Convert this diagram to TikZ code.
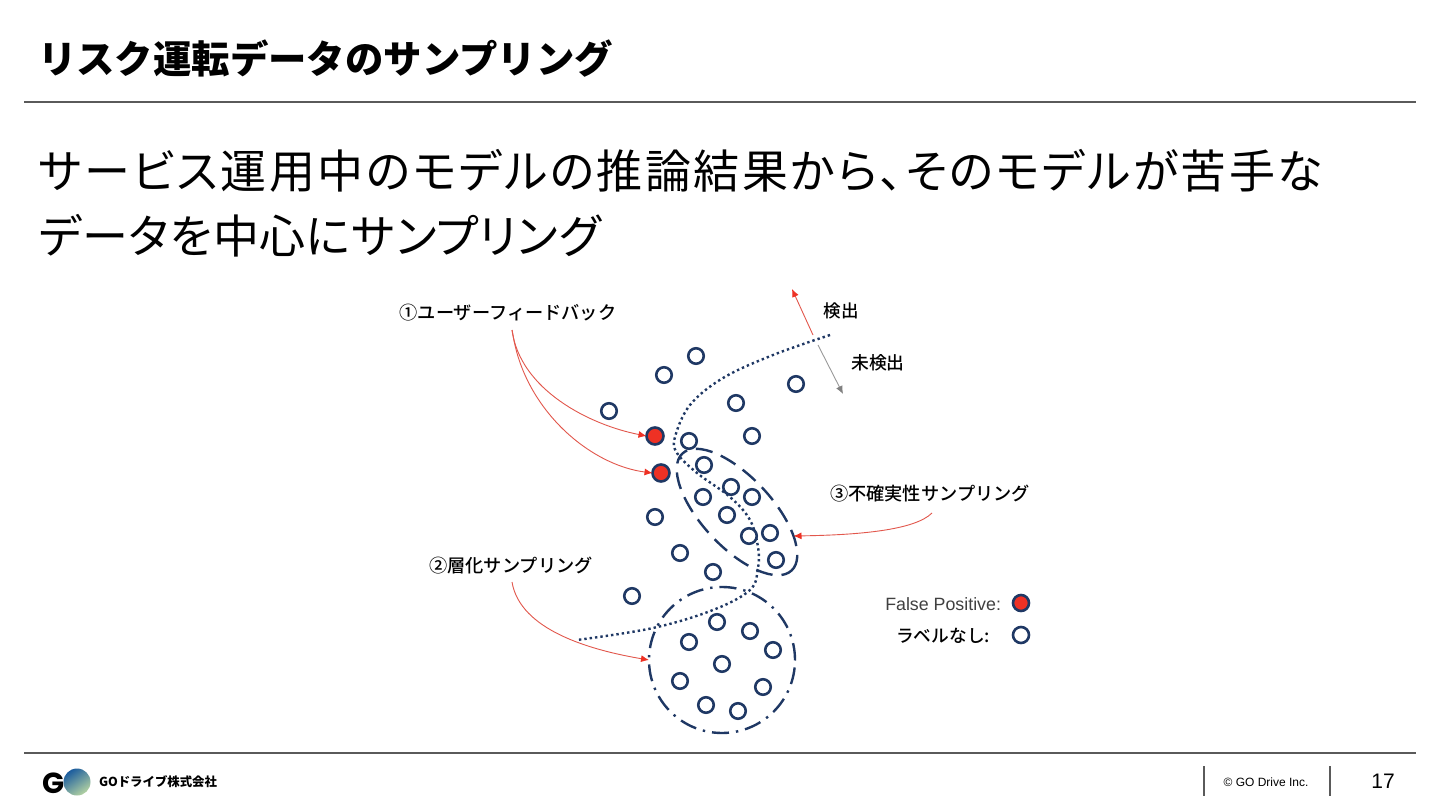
\documentclass[tikz,border=0pt]{standalone}
\usepackage{fontspec}
\usetikzlibrary{shapes.geometric,arrows.meta}
\setmainfont{Liberation Sans}
\newfontfamily\jp{Noto Sans CJK JP}
\newfontfamily\jpm{Noto Sans CJK JP Medium}
\newfontfamily\jpa{Noto Sans CJK JP}[RawFeature={+palt},LetterSpace=5.3]
\newfontfamily\jpb{Noto Sans CJK JP}[RawFeature={+palt},LetterSpace=1.6]
\newfontfamily\gfont{Poppins}
\newcommand{\fsz}[1]{\fontsize{#1}{#1}\selectfont}
\definecolor{navy}{HTML}{1F3864}
\definecolor{redmark}{HTML}{EE3124}
\definecolor{rule}{HTML}{5A5A5A}
\definecolor{linkred}{HTML}{E2574C}
\definecolor{globetop}{HTML}{1B5C9E}
\definecolor{globebot}{HTML}{B4D3A2}
\tikzset{
  x=1pt,y=-1pt,
  dot/.style={circle,draw=navy,line width=2.6pt,fill=white,minimum size=15.5pt,inner sep=0pt,outer sep=0pt},
  reddot/.style={dot,fill=redmark,minimum size=17pt},
  txt/.style={inner sep=0pt,outer sep=0pt,text=black},
  titletxt/.style={txt,anchor=west,font=\jp\bfseries\fsz{38.4}},
  bodytxt/.style={txt,anchor=west},
  lab/.style={txt,font=\jpm\fsz{18.2}},
  link/.style={draw=linkred,line width=0.9pt,-{Latex[length=8pt,width=7pt,color=redmark]}},
  rulel/.style={draw=rule,line width=1.1pt},
}
\begin{document}
\begin{tikzpicture}
\useasboundingbox (0,0) rectangle (1440,810);
\fill[white] (0,0) rectangle (1440,810);
% header
\node[titletxt] (title) at (38,59) {リスク運転データのサンプリング};
\coordinate (tl) at (24,102); \coordinate (tr) at (1416,102);
\draw[rulel] (tl) -- (tr);
\node[bodytxt,font=\jpa\fsz{46}] (b1) at (39,171) {サービス運用中のモデルの推論結果から、そのモデルが苦手な};
\node[bodytxt,font=\jpb\fsz{46}] (b2) at (39,236) {データを中心にサンプリング};
% decision boundary
\draw[navy,line width=2.4pt,dash pattern=on 2.4pt off 3pt]
 plot[smooth,tension=0.6] coordinates {(830,335) (773,355) (723,378) (690,405) (675,437) (677,453) (697,473) (730,497) (750,520) (758,547) (758,568) (750,590) (713,610) (653,628) (577,640)};
% sampled regions
\node[ellipse,draw=navy,line width=2.4pt,dash pattern=on 17pt off 9pt,minimum width=160pt,minimum height=70pt,inner sep=0pt,outer sep=0pt,rotate=-47] (unc) at (737,512) {};
\node[circle,draw=navy,line width=2.4pt,dash pattern=on 17pt off 7pt on 2.4pt off 7pt,minimum size=146pt,inner sep=0pt,outer sep=0pt] (strat) at (722,660) {};
% points
\foreach \n/\x/\y in {a/696/356,b/664/375,c/609/411,d/796/384,e/736/403,f/752/436,g/689/441,h/704/465,i/731/487,j/703/497,k/752/497,l/727/515,m/655/517,n/749/536,o/770/533,p/776/560,q/680/553,r/713/572,s/632/596,t/717/622,u/750/631,v/689/642,w/773/650,y/722/664,z/680/681,aa/763/687,ab/706/705,ac/738/711}
  \node[dot] (\n) at (\x,\y) {};
\node[reddot] (r1) at (655,436) {};
\node[reddot] (r2) at (661,473) {};
% labels
\node[lab] (l1) at (508,313) {①ユーザーフィードバック};
\node[lab] (l2) at (511,566) {②層化サンプリング};
\node[lab] (l3) at (930,494) {③不確実性サンプリング};
\node[lab,font=\jpm\fsz{17.5}] (det) at (841,311) {検出};
\node[lab,font=\jpm\fsz{17.8}] (undet) at (878,363) {未検出};
% connectors
\coordinate (s1) at (512,330);
\coordinate (s1b) at (513,335);
\coordinate (s2) at (512,582);
\coordinate (s3) at (932,513);
\draw[link] (s1) .. controls (520,390) and (590,425) .. (r1.west);
\draw[link] (s1) -- (s1b) .. controls (525,410) and (590,465) .. (r2.west);
\draw[link] (s2) .. controls (520,630) and (590,650) .. (strat.west);
\draw[link] (s3) .. controls (915,530) and (860,535) .. (unc.24);
\coordinate (d0) at (813,335); \coordinate (d1) at (792,289);
\coordinate (n0) at (818,345); \coordinate (n1) at (843,394);
\draw[link] (d0) -- (d1);
\draw[draw=gray!80,line width=0.9pt,-{Latex[length=8pt,width=7pt,color=gray]}] (n0) -- (n1);
% legend
\node[txt,anchor=east,font=\fsz{17.8},text=black!75] (fp) at (1001,604) {False Positive:};
\node[reddot,minimum size=16pt] (lr) at (1021,603) {};
\node[lab,anchor=east,font=\jpm\fsz{17.7}] (nl) at (990,636) {ラベルなし:};
\node[dot,minimum size=16pt] (lh) at (1021,635) {};
% footer
\coordinate (bl) at (24,753); \coordinate (br) at (1416,753);
\draw[rulel] (bl) -- (br);
\node[circle,minimum size=27pt,inner sep=0pt,top color=globetop,bottom color=globebot,shading angle=35] (globe) at (77,782) {};
\node[txt,font=\gfont\bfseries\fsz{29}] (gl) at (54,783) {G};
\node[txt,anchor=west,font=\jp\bfseries\fsz{12.4}] (co) at (99,782) {GOドライブ株式会社};
\coordinate (v1a) at (1204,766); \coordinate (v1b) at (1204,796);
\coordinate (v2a) at (1330,766); \coordinate (v2b) at (1330,796);
\draw[rulel] (v1a) -- (v1b);
\draw[rulel] (v2a) -- (v2b);
\node[txt,font=\fsz{12}] (cr) at (1266,782) {© GO Drive Inc.};
\node[txt,font=\fsz{21}] (pg) at (1383,781) {17};
\end{tikzpicture}
\end{document}
